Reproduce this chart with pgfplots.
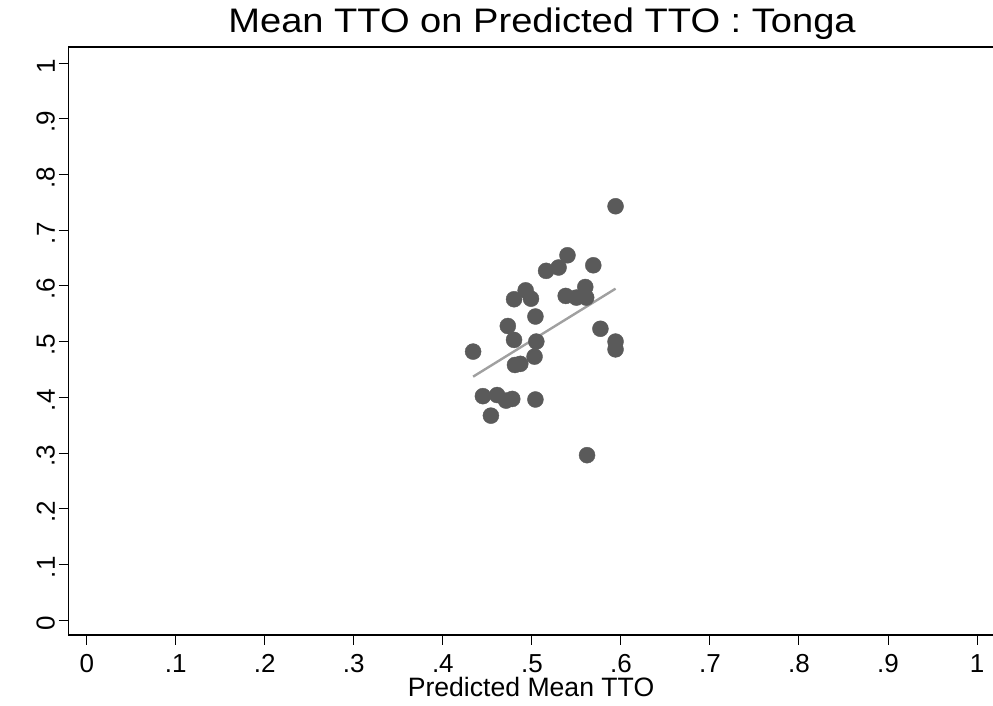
\documentclass[border=0pt]{standalone}
\usepackage{fontspec}
\setmainfont{Liberation Sans}
\usepackage{pgfplots}
\pgfplotsset{compat=1.18}
\definecolor{dotgray}{RGB}{90,90,90}
\definecolor{linegray}{RGB}{160,160,160}
\begin{document}
\begin{tikzpicture}[x=1pt,y=1pt]
\path[use as bounding box] (0,0) rectangle (993,706);
\begin{axis}[at={(68.5pt,71pt)}, anchor=south west, scale only axis,
  width=924.5pt, height=588pt,
  xmin=-0.0205, xmax=1.018, ymin=-0.0269, ymax=1.029,
  axis x line=bottom, axis y line=left,
  axis line style={-, line width=1.2pt, black},
  tick align=outside, major tick length=10pt,
  tick style={black, line width=0.9pt},
  xtick={0,0.1,0.2,0.3,0.4,0.5,0.6,0.7,0.8,0.9,1},
  xticklabels={0,.1,.2,.3,.4,.5,.6,.7,.8,.9,1},
  ytick={0,0.1,0.2,0.3,0.4,0.5,0.6,0.7,0.8,0.9,1},
  yticklabels={0,.1,.2,.3,.4,.5,.6,.7,.8,.9,1},
  ticklabel style={font=\fontsize{26}{30}\selectfont},
  xticklabel style={yshift=-6pt},
  yticklabel style={rotate=90, anchor=south, xshift=-3pt},
  clip=false,
]
\addplot[only marks, mark=*, mark size=8pt, mark options={fill=dotgray, draw=dotgray}] coordinates {
(0.594,0.743) (0.540,0.655) (0.530,0.633) (0.516,0.627) (0.569,0.637)
(0.493,0.592) (0.480,0.576) (0.499,0.577) (0.538,0.582) (0.550,0.579)
(0.560,0.598) (0.561,0.579) (0.504,0.545) (0.473,0.528) (0.577,0.523)
(0.480,0.503) (0.505,0.500) (0.594,0.500) (0.594,0.486) (0.434,0.482)
(0.503,0.473) (0.481,0.458) (0.487,0.460) (0.445,0.402) (0.461,0.404)
(0.471,0.394) (0.478,0.397) (0.504,0.396) (0.454,0.367) (0.562,0.296)
};
\addplot[linegray, line width=2.4pt] coordinates {(0.434,0.437) (0.594,0.595)};
\draw[line width=1.2pt] (rel axis cs:0,1) -- (rel axis cs:1,1);
\end{axis}
\node[anchor=base, inner sep=0pt] at (542,673) {\scalebox{1.12}[1]{\fontsize{34}{40}\selectfont Mean TTO on Predicted TTO : Tonga}};
\node[font=\fontsize{26.6}{30}\selectfont, anchor=base, inner sep=0pt] at (531,9) {Predicted Mean TTO};
\end{tikzpicture}
\end{document}
